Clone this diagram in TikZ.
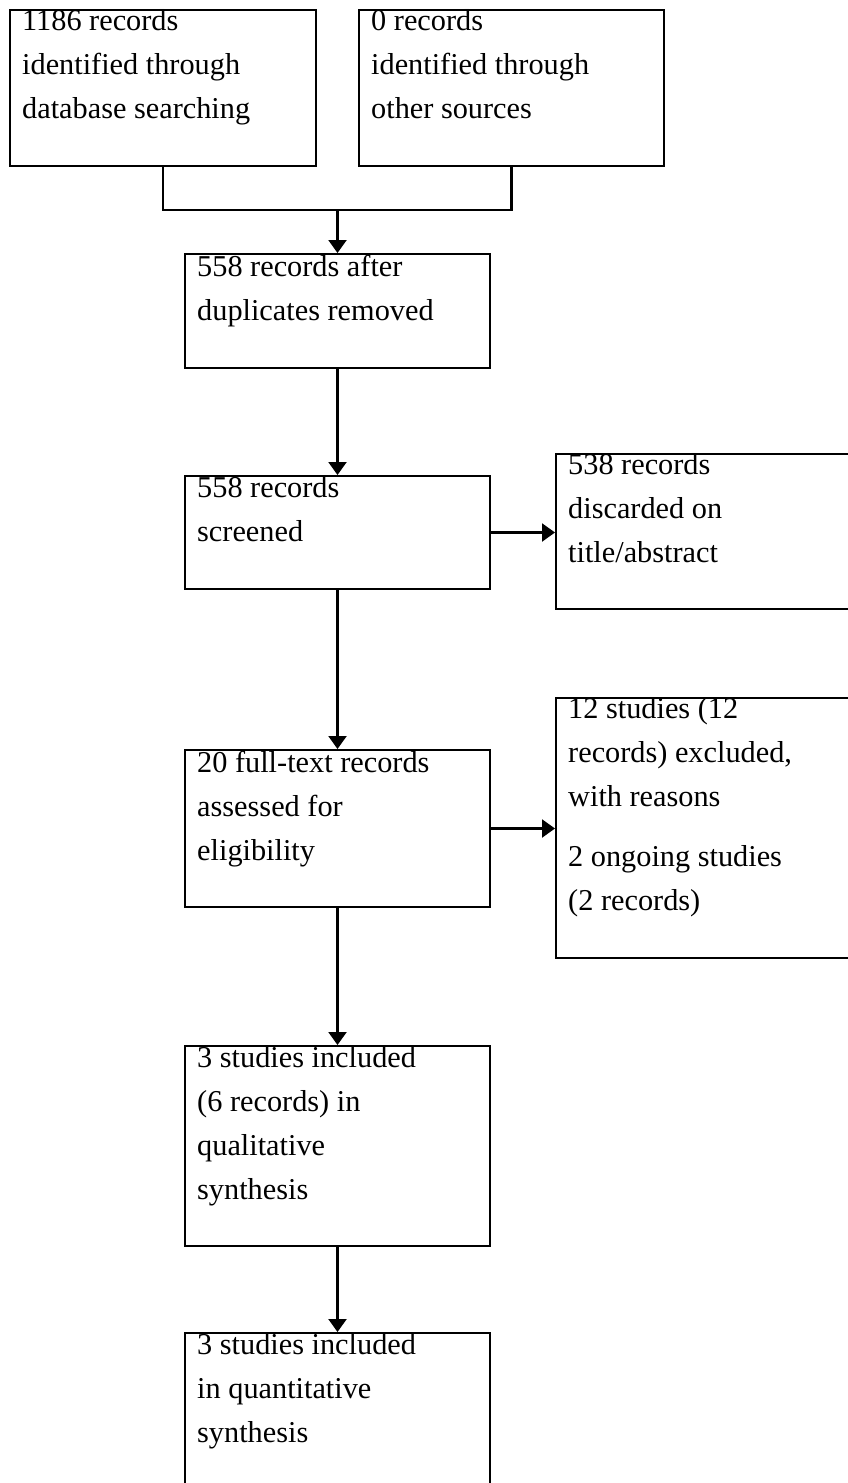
\documentclass[tikz,border=0pt]{standalone}
\usepackage{fontspec}
\setmainfont{Liberation Serif}
\usetikzlibrary{arrows.meta}
\begin{document}
\begin{tikzpicture}[x=1pt,y=-1pt,
  boxline/.style={draw=black,line width=2pt},
  txt/.style={anchor=north west,inner sep=0pt,align=left,font=\fontsize{30.3}{44}\selectfont},
  conn/.style={line width=2.2pt},
  arr/.style={line width=2.2pt,-{Triangle[width=18pt,length=13pt]}}]
\clip (0,0) rectangle (848,1483);
\fill[white] (0,0) rectangle (848,1483);
% boxes
\node[boxline,inner sep=0pt,minimum width=306pt,minimum height=156pt] (b1) at (163,88) {};
\node[boxline,inner sep=0pt,minimum width=305pt,minimum height=156pt] (b2) at (511.5,88) {};
\node[boxline,inner sep=0pt,minimum width=305pt,minimum height=114pt] (b3) at (337.5,311) {};
\node[boxline,inner sep=0pt,minimum width=305pt,minimum height=113pt] (b4) at (337.5,532.5) {};
\node[boxline,inner sep=0pt,minimum width=300pt,minimum height=155pt] (b5) at (706,531.5) {};
\node[boxline,inner sep=0pt,minimum width=305pt,minimum height=157pt] (b6) at (337.5,828.5) {};
\node[boxline,inner sep=0pt,minimum width=300pt,minimum height=260pt] (b7) at (706,828) {};
\node[boxline,inner sep=0pt,minimum width=305pt,minimum height=200pt] (b8) at (337.5,1146) {};
\node[boxline,inner sep=0pt,minimum width=305pt,minimum height=160pt] (b9) at (337.5,1413) {};
% texts
\node[txt] (t1) at (22,9.5) {1186 records\\identified through\\database searching};
\node[txt] (t2) at (371,9.5) {0 records\\identified through\\other sources};
\node[txt] (t3) at (197,254.5) {558 records after\\duplicates removed};
\node[txt] (t4) at (197,476.5) {558 records\\screened};
\node[txt] (t5) at (568,453.5) {538 records\\discarded on\\title/abstract};
\node[txt] (t6) at (197,750.5) {20 full-text records\\assessed for\\eligibility};
\node[txt] (t7) at (568,697.5) {12 studies (12\\records) excluded,\\with reasons\\[16pt]2 ongoing studies\\(2 records)};
\node[txt] (t8) at (197,1046.5) {3 studies included\\(6 records) in\\qualitative\\synthesis};
\node[txt] (t9) at (197,1333.5) {3 studies included\\in quantitative\\synthesis};
% connectors
\coordinate (j) at (337.5,210);
\draw[conn] (b1.south) -- (b1.south |- j) -- (b2.south |- j) -- (b2.south);
\draw[arr] (j) -- (b3.north);
\draw[arr] (b3.south) -- (b4.north);
\draw[arr] (b4.east) -- (b5.west |- b4.east);
\draw[arr] (b4.south) -- (b6.north);
\draw[arr] (b6.east) -- (b7.west |- b6.east);
\draw[arr] (b6.south) -- (b8.north);
\draw[arr] (b8.south) -- (b9.north);
\end{tikzpicture}
\end{document}
